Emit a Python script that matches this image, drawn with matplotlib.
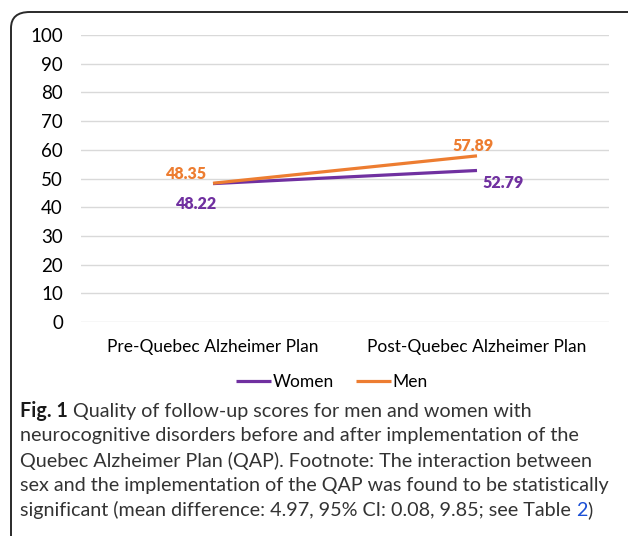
import matplotlib.pyplot as plt
from matplotlib.patches import FancyBboxPatch

# data
categories = ['Pre-Quebec Alzheimer Plan', 'Post-Quebec Alzheimer Plan']
women = [48.22, 52.79]
men = [48.35, 57.89]
yticks = list(range(0, 101, 10))

purple = '#7030a0'
orange = '#ed7d31'
plt.rcParams['font.family'] = ['Lato', 'DejaVu Sans']

fig = plt.figure(figsize=(6.28, 5.36), dpi=100)
W, H = 628, 536

# rounded frame, runs off the right and bottom
frame = FancyBboxPatch((11/W, -0.1), 1.2, 1 - 12/H + 0.1,
                       boxstyle='round,pad=0,rounding_size=0.03',
                       transform=fig.transFigure, fill=False,
                       edgecolor='#2a2a2a', linewidth=1.4, clip_on=False)
fig.patches.append(frame)

ax = fig.add_axes([81/W, 1 - 322/H, (609-81)/W, (322-35)/H])
x = range(len(categories))
ax.plot(x, women, color=purple, lw=2.3, solid_capstyle='butt', label='Women')
ax.plot(x, men, color=orange, lw=2.3, solid_capstyle='butt', label='Men')
ax.set_xlim(-0.5, 1.5)
ax.set_ylim(0, 100)
ax.set_yticks(yticks)
ax.set_xticks(list(x))
ax.set_xticklabels(categories, fontsize=12.5)
ax.tick_params(axis='y', labelsize=13.5, length=0, pad=13)
ax.tick_params(axis='x', length=0, pad=12)
ax.grid(axis='y', color='#d9d9d9', lw=1)
ax.set_axisbelow(True)
for s in ax.spines.values():
    s.set_visible(False)

# data labels
lab = dict(fontsize=11.5, fontweight='heavy', ha='center', va='center')
ax.annotate(f'{men[0]:.2f}', (0, men[0]), xytext=(-19, 7), textcoords='offset points', color=orange, **lab)
ax.annotate(f'{women[0]:.2f}', (0, women[0]), xytext=(-12, -15), textcoords='offset points', color=purple, **lab)
ax.annotate(f'{men[1]:.2f}', (1, men[1]), xytext=(-3, 7), textcoords='offset points', color=orange, **lab)
ax.annotate(f'{women[1]:.2f}', (1, women[1]), xytext=(19, -9), textcoords='offset points', color=purple, **lab)

fig.legend(handles=ax.get_lines(), loc='center', bbox_to_anchor=(332/W, 1 - 382/H),
           ncol=2, frameon=False, fontsize=12.5, handlelength=2.0, handletextpad=0.1,
           columnspacing=1.3)

# caption
cap = [
    'Quality of follow-up scores for men and women with',
    'neurocognitive disorders before and after implementation of the',
    'Quebec Alzheimer Plan (QAP). Footnote: The interaction between',
    'sex and the implementation of the QAP was found to be statistically',
    'significant (mean difference: 4.97, 95% CI: 0.08, 9.85; see Table ',
]
cap_fs = 14.2
ys = [411, 436, 461, 486, 510]
fig.canvas.draw()
r = fig.canvas.get_renderer()
t = fig.text(20/W, 1 - ys[0]/H, 'Fig. 1', fontsize=cap_fs, fontweight='bold', va='center', color='#1a1a1a')
bb = t.get_window_extent(r)
fig.text(bb.x1/W + 5/W, 1 - ys[0]/H, cap[0], fontsize=cap_fs, va='center', color='#333333')
for line, yy in zip(cap[1:], ys[1:]):
    t = fig.text(20/W, 1 - yy/H, line, fontsize=cap_fs, va='center', color='#333333')
bb = t.get_window_extent(r)
t2 = fig.text(bb.x1/W, 1 - ys[-1]/H, '2', fontsize=cap_fs, va='center', color='#1a4fd6')
bb2 = t2.get_window_extent(r)
fig.text(bb2.x1/W, 1 - ys[-1]/H, ')', fontsize=cap_fs, va='center', color='#333333')

fig.savefig('out.png', dpi=100)
